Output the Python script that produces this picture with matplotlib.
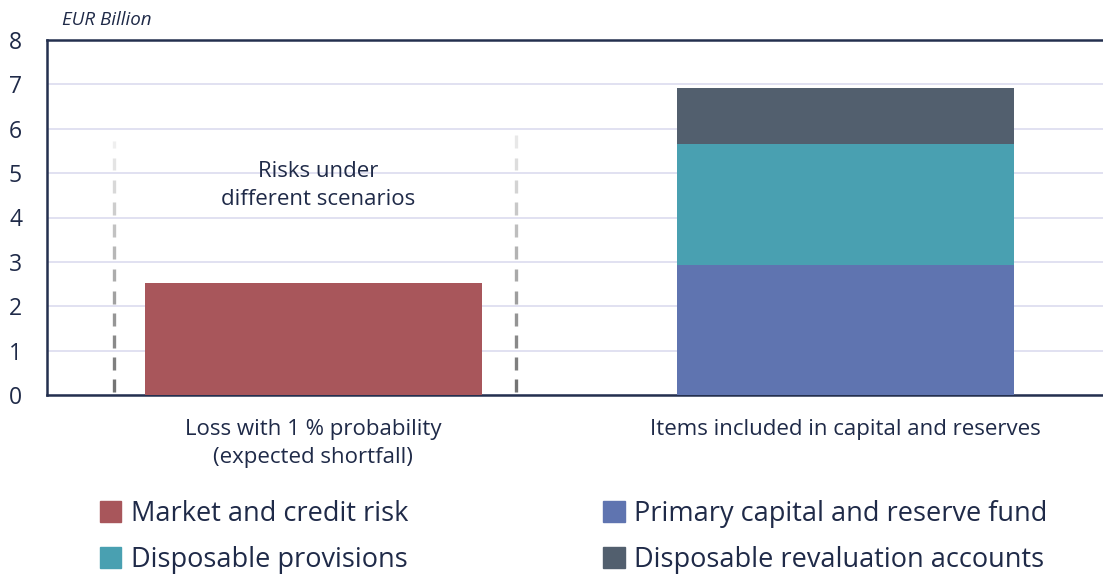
import matplotlib
matplotlib.use("Agg")
import matplotlib.pyplot as plt
import numpy as np
from matplotlib.patches import Patch

categories = ["Loss with 1 % probability\n(expected shortfall)", "Items included in capital and reserves"]
risk = [2.52, 0.0]
primary = [0.0, 2.93]
provisions = [0.0, 2.72]
revaluation = [0.0, 1.26]
series_names = ["Market and credit risk", "Primary capital and reserve fund",
                "Disposable provisions", "Disposable revaluation accounts"]
colors = ["#a8565b", "#5f74b0", "#49a0b1", "#525f6e"]
yticks = [0, 1, 2, 3, 4, 5, 6, 7, 8]

txt = "#1f2a48"
plt.rcParams['font.family'] = ['Open Sans', 'DejaVu Sans']

fig = plt.figure(figsize=(11.03, 5.77), dpi=100)
ax = fig.add_axes([47/1103, 1-395/577, 1-47/1103, (395-40)/577])

x = np.arange(len(categories))
w = 0.633
ax.bar(x, risk, w, color=colors[0], zorder=3)
ax.bar(x, primary, w, color=colors[1], zorder=3)
ax.bar(x, provisions, w, bottom=np.array(primary), color=colors[2], zorder=3)
ax.bar(x, revaluation, w, bottom=np.array(primary)+np.array(provisions), color=colors[3], zorder=3)

ax.set_xlim(-0.5, 1.483)
ax.set_ylim(0, 8)
ax.set_yticks(yticks)
ax.grid(axis='y', color='#dcdcef', lw=1.2, zorder=0)
ax.set_axisbelow(True)

# dashed bracket lines fading upward
dash, gap = 0.29, 0.21
for xd, top in [(-0.375, 5.72), (0.380, 6.05)]:
    y0 = 0.06
    while y0 < top:
        y1 = min(y0 + dash, top)
        f = y0 / top
        g = 0.45 + 0.5 * f
        ax.plot([xd, xd], [y0, y1], color=(g, g, g), lw=2.4, zorder=2,
                solid_capstyle='butt')
        y0 = y1 + gap

ax.text(0.01, 4.72, "Risks under\ndifferent scenarios", ha='center', va='center',
        fontsize=16, color=txt, linespacing=1.45)

for s in ['left', 'top', 'bottom']:
    ax.spines[s].set_color('#24304f')
    ax.spines[s].set_linewidth(1.8)
ax.spines['right'].set_visible(False)

ax.tick_params(axis='y', length=0, labelsize=16.5, labelcolor=txt, pad=18)
ax.set_xticks(x)
ax.set_xticklabels(categories, fontsize=16, color=txt, linespacing=1.45)
ax.tick_params(axis='x', length=0, pad=17)

fig.text(62/1103, 1-20/577, "EUR Billion", fontsize=13.5, style='italic', color=txt, va='center')

handles = [Patch(color=c) for c in colors]
order = [0, 2, 1, 3]
leg = fig.legend([handles[i] for i in order], [series_names[i] for i in order],
                 ncol=2, loc='center', bbox_to_anchor=(0.52, 1-537/577), frameon=False,
                 fontsize=19.5, handlelength=0.8, handleheight=0.8, handletextpad=0.35,
                 columnspacing=7.2, labelspacing=0.65)
for t in leg.get_texts():
    t.set_color(txt)

fig.savefig("out.png", dpi=100)
